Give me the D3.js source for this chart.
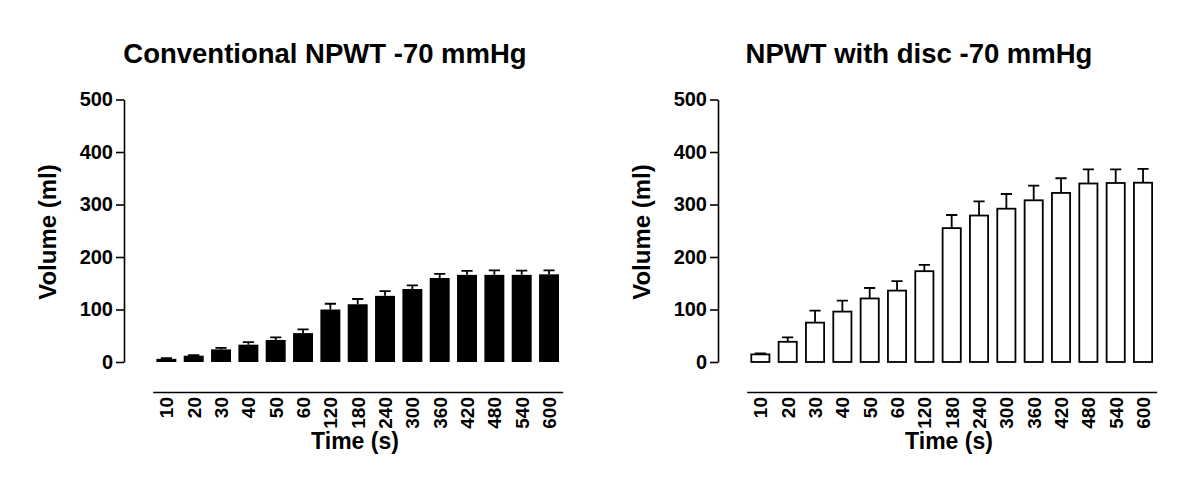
<!DOCTYPE html>
<html>
<head>
<meta charset="utf-8">
<script src="https://cdn.jsdelivr.net/npm/d3@7"></script>
<style>
body { margin: 0; background: #fff; }
text { font-family: "Liberation Sans", Arial, sans-serif; font-weight: bold; fill: #000; }
</style>
</head>
<body>
<svg width="1200" height="498"></svg>
<script>
var times = ["10", "20", "30", "40", "50", "60", "120", "180", "240", "300", "360", "420", "480", "540", "600"];
var convMean = [6, 12, 24, 33, 42, 55, 100, 110, 126, 139, 160, 166, 166, 166, 167];
var convErr = [1.5, 1, 3, 5, 5, 7, 11, 10, 9, 7, 8, 7.5, 8.5, 8, 7.5];
var discMean = [14.5, 38.5, 75, 96, 121, 136, 173, 255, 279, 292, 308, 322, 340, 341, 341.5];
var discErr = [2, 8.5, 23, 21, 20, 18, 12, 25, 27, 28, 28, 28, 27, 26, 26.5];
var yTicks = [0, 100, 200, 300, 400, 500];

var svg = d3.select('svg');
svg.append('rect').attr('width', 1200).attr('height', 498).attr('fill', '#fff');

var scaleY = d3.scaleLinear().domain([0, 500]).range([362, 99.5]);
var scaleX = d3.scaleBand().domain(times).range([152.7, 562.7])
  .paddingInner(0.27).paddingOuter(0.135);

function drawPanel(dx, title, means, errs, filled) {
  var g = svg.append('g').attr('transform', 'translate(' + dx + ',0)');
  var rows = times.map(function(t, i) {
    return {t: t, m: means[i], e: errs[i]};
  });

  g.append('text')
    .attr('x', 325).attr('y', 63)
    .attr('text-anchor', 'middle')
    .style('font-size', '27.5px')
    .text(title);

  // y axis
  var yAx = g.append('g')
    .attr('transform', 'translate(124,0)')
    .call(d3.axisLeft(scaleY).tickValues(yTicks).tickSize(8).tickSizeOuter(0).tickPadding(3));
  yAx.selectAll('path, line').attr('stroke', '#000').attr('stroke-width', 1.6);
  yAx.selectAll('text').style('font-size', '20px');

  // x axis
  var xAx = g.append('g')
    .attr('transform', 'translate(0,392)')
    .call(d3.axisBottom(scaleX).tickSize(0).tickSizeOuter(0));
  xAx.select('.domain').attr('stroke', '#000').attr('stroke-width', 1.6);
  xAx.selectAll('text')
    .style('font-size', '19px')
    .attr('transform', 'rotate(-90)')
    .attr('text-anchor', 'end')
    .attr('x', -5)
    .attr('y', 0)
    .attr('dy', '0.36em');

  g.append('text')
    .attr('transform', 'translate(48,232) rotate(-90)')
    .attr('text-anchor', 'middle')
    .attr('dy', '0.35em')
    .style('font-size', '24px')
    .text('Volume (ml)');

  g.append('text')
    .attr('x', 355).attr('y', 449)
    .attr('text-anchor', 'middle')
    .style('font-size', '23px')
    .text('Time (s)');

  var bw = scaleX.bandwidth();
  var sw = filled ? 0 : 1.8;

  // error bars (upper only)
  g.selectAll('.err')
    .data(rows)
    .enter()
    .append('path')
    .attr('class', 'err')
    .attr('fill', 'none')
    .attr('stroke', '#000')
    .attr('stroke-width', 1.8)
    .attr('d', function(d) {
      var cx = scaleX(d.t) + bw / 2;
      var top = scaleY(d.m + d.e);
      return 'M' + cx + ',' + scaleY(d.m) + 'V' + top +
        'M' + (cx - bw * 0.28) + ',' + top + 'H' + (cx + bw * 0.28);
    });

  g.selectAll('.bar')
    .data(rows)
    .enter()
    .append('rect')
    .attr('class', 'bar')
    .attr('x', function(d) { return scaleX(d.t) + sw / 2; })
    .attr('y', function(d) { return scaleY(d.m); })
    .attr('width', bw - sw)
    .attr('height', function(d) { return scaleY(0) - scaleY(d.m); })
    .attr('fill', filled ? '#000' : '#fff')
    .attr('stroke', filled ? 'none' : '#000')
    .attr('stroke-width', sw);
}

drawPanel(0, 'Conventional NPWT -70 mmHg', convMean, convErr, true);
drawPanel(594, 'NPWT with disc -70 mmHg', discMean, discErr, false);
</script>
</body>
</html>
